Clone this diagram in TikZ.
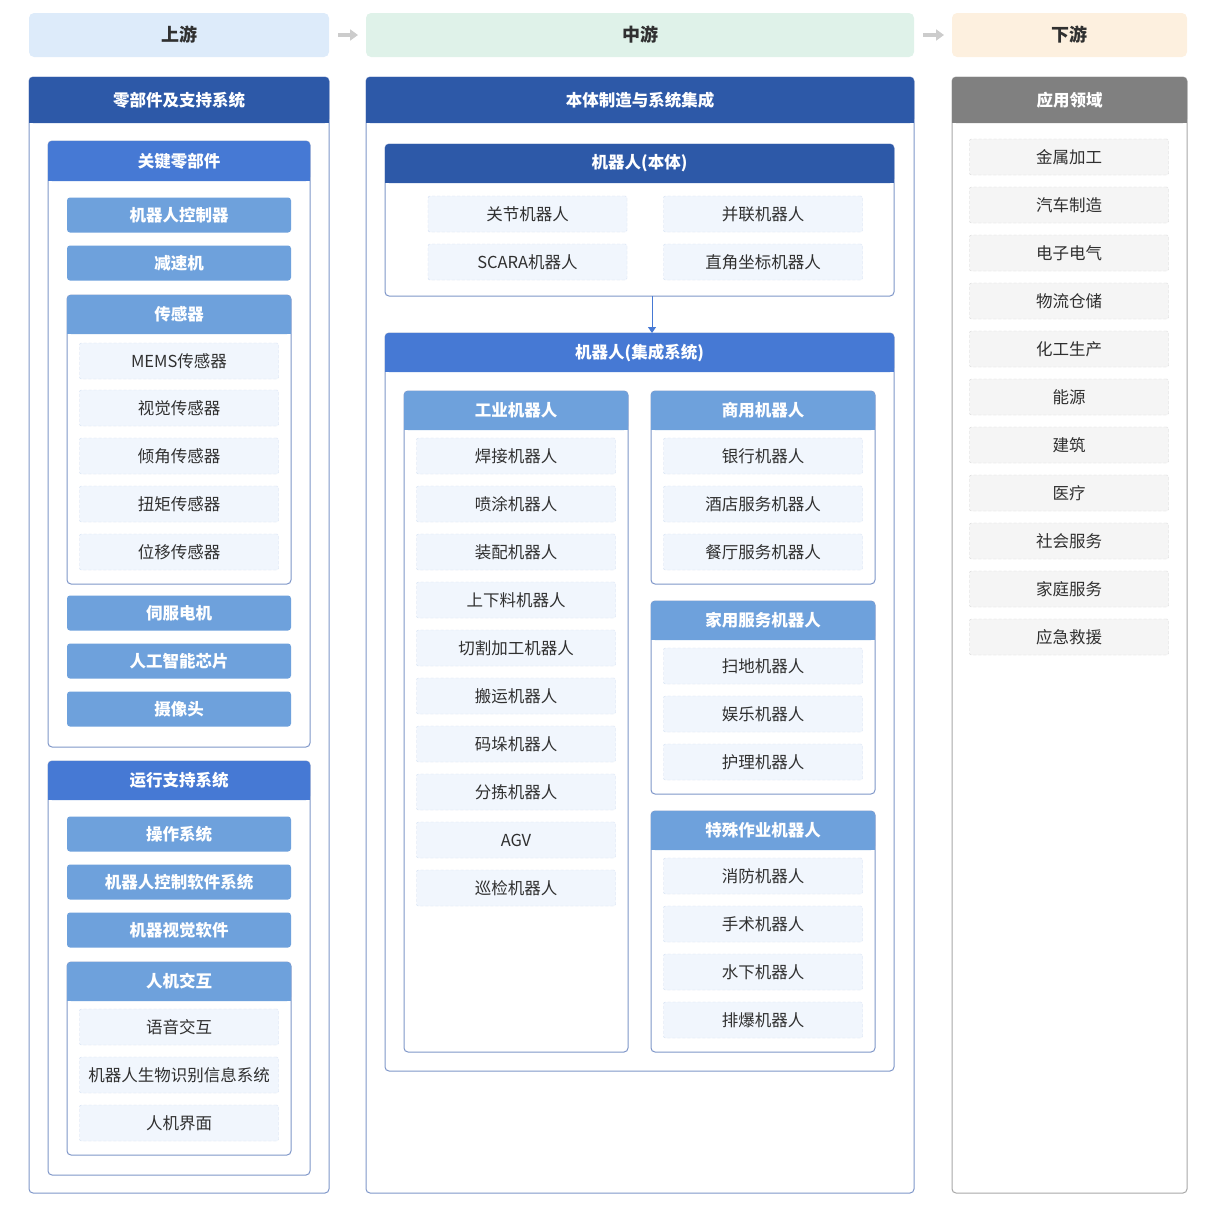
\documentclass[tikz,border=0pt]{standalone}
\usepackage{fontspec}
\setmainfont{Noto Sans CJK SC}
\usepackage{xcolor}
\usepackage{tikz}
\usetikzlibrary{arrows.meta}
\definecolor{darkblue}{HTML}{2D59A8}
\definecolor{midblue}{HTML}{4679D4}
\definecolor{lightblue}{HTML}{6EA1DC}
\definecolor{frameline}{HTML}{7F97C9}
\definecolor{itemfill}{HTML}{F1F6FD}
\definecolor{itemline}{HTML}{D3DFF2}
\definecolor{headgray}{HTML}{808080}
\definecolor{grayline}{HTML}{A8A8A8}
\definecolor{grayfill}{HTML}{F5F5F5}
\definecolor{graydash}{HTML}{D6D6D6}
\definecolor{textgray}{HTML}{303030}
\definecolor{upfill}{HTML}{DDEBFA}
\definecolor{midfill}{HTML}{DFF2E9}
\definecolor{downfill}{HTML}{FDF0DF}

\begin{document}
\begin{tikzpicture}[x=1pt,y=-1pt,
  frame/.style={draw, fill=white, rounded corners=4pt, inner sep=0pt, outer sep=0pt, line width=1pt},
  hdtxt/.style={text=white, inner sep=0pt, font=\fontsize{16.5}{18}\selectfont\bfseries},
  item/.style={draw=itemline, fill=itemfill, dash pattern=on 3pt off 2pt, rounded corners=2pt, minimum width=199pt, minimum height=36pt, inner sep=0pt, text=textgray, font=\fontsize{16.5}{18}\selectfont},
  grayitem/.style={item, draw=graydash, fill=grayfill},
  keybox/.style={fill=lightblue, rounded corners=3pt, minimum width=224pt, minimum height=35pt, inner sep=0pt, text=white, font=\fontsize{16.5}{18}\selectfont\bfseries},
  stage/.style={rounded corners=5pt, minimum height=44pt, inner sep=0pt, outer sep=0pt, text=textgray, font=\fontsize{18}{20}\selectfont\bfseries},
  stagearrow/.style={line width=4pt, color=black!20, -{Triangle[length=8pt,width=11pt]}, shorten <=9pt, shorten >=8pt}]
\useasboundingbox (0,0) rectangle (1207,1205);
%% stages
\node[stage, fill=upfill, minimum width=300pt] (up) at (179,35) {上游};
\node[stage, fill=midfill, minimum width=548pt] (mid) at (640,35) {中游};
\node[stage, fill=downfill, minimum width=235pt] (down) at (1069.5,35) {下游};
\draw[stagearrow] (up) -- (mid);
\draw[stagearrow] (mid) -- (down);
%% panels with a header
\foreach \n/\xa/\ya/\xb/\yb/\hb/\hc/\bc/\txt in {
    colA/29/77/329/1193/123/darkblue/frameline/零部件及支持系统,
    colB/366/77/914/1193/123/darkblue/frameline/本体制造与系统集成,
    colC/952/77/1187/1193/123/headgray/grayline/应用领域,
    key/48/141/310/747/181/midblue/frameline/关键零部件,
    run/48/761/310/1175/800/midblue/frameline/运行支持系统,
    sensor/67/295/291/584/334/lightblue/frameline/传感器,
    hci/67/962/291/1155/1001/lightblue/frameline/人机交互,
    body/385/144/894/296/183/darkblue/frameline/机器人(本体),
    sys/385/333/894/1071/372/midblue/frameline/机器人(集成系统),
    ind/404/391/628/1052/430/lightblue/frameline/工业机器人,
    com/651/391/875/584/430/lightblue/frameline/商用机器人,
    home/651/601/875/794/640/lightblue/frameline/家用服务机器人,
    spec/651/811/875/1052/850/lightblue/frameline/特殊作业机器人}
{
  \node[frame, draw=\bc, minimum width={(\xb-\xa)*1pt}, minimum height={(\yb-\ya)*1pt}] (\n) at ({(\xa+\xb)/2},{(\ya+\yb)/2}) {};
  \fill[\hc, rounded corners=4pt] (\xa,\ya) rectangle (\xb,\hb);
  \fill[\hc] (\xa,\hb-6) rectangle (\xb,\hb);
  \node[hdtxt] (\n-t) at ({(\xa+\xb)/2},{(\ya+\hb)/2}) {\txt};
}
%% upstream
\foreach \y/\txt [count=\i] in {215/机器人控制器, 263/减速机, 613/伺服电机, 661/人工智能芯片, 709/摄像头, 834/操作系统, 882/机器人控制软件系统, 930/机器视觉软件}
    \node[keybox] (kb\i) at (179,\y) {\txt};
\foreach \y/\txt [count=\i] in {361/MEMS传感器, 408/视觉传感器, 456/倾角传感器, 504/扭矩传感器, 552/位移传感器}
    \node[item] (sen\i) at (179,\y) {\txt};
\foreach \y/\txt [count=\i] in {1027/语音交互, 1075/机器人生物识别信息系统, 1123/人机界面}
    \node[item] (hci\i) at (179,\y) {\txt};
%% midstream
\foreach \x/\y/\txt [count=\i] in {527.5/214/关节机器人, 763/214/并联机器人, 527.5/262/SCARA机器人, 763/262/直角坐标机器人}
    \node[item] (bd\i) at (\x,\y) {\txt};
\draw[midblue, line width=1pt, -{Triangle[length=6pt,width=8pt]}] ([xshift=12.5pt]body.south) -- ([xshift=12.5pt]sys.north);
\foreach \y/\txt [count=\i] in {456/焊接机器人, 504/喷涂机器人, 552/装配机器人, 600/上下料机器人, 648/切割加工机器人, 696/搬运机器人, 744/码垛机器人, 792/分拣机器人, 840/AGV, 888/巡检机器人}
    \node[item] (ind\i) at (516,\y) {\txt};
\foreach \y/\txt [count=\i] in {456/银行机器人, 504/酒店服务机器人, 552/餐厅服务机器人, 666/扫地机器人, 714/娱乐机器人, 762/护理机器人, 876/消防机器人, 924/手术机器人, 972/水下机器人, 1020/排爆机器人}
    \node[item] (svc\i) at (763,\y) {\txt};
%% downstream
\foreach \y/\txt [count=\i] in {157/金属加工, 205/汽车制造, 253/电子电气, 301/物流仓储, 349/化工生产, 397/能源, 445/建筑, 493/医疗, 541/社会服务, 589/家庭服务, 637/应急救援}
    \node[grayitem] (app\i) at (1069,\y) {\txt};
\end{tikzpicture}
\end{document}
